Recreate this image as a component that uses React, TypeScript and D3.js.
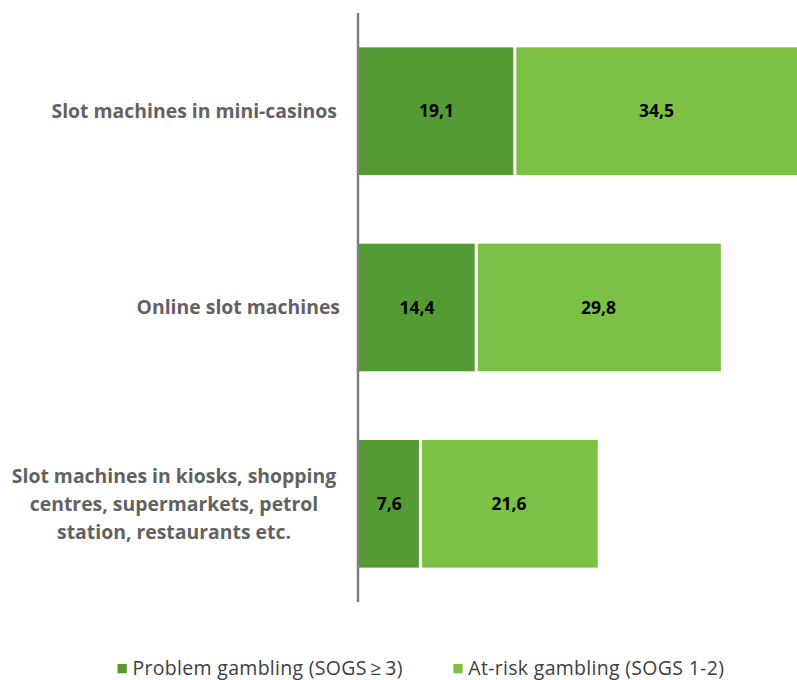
import React from "react";
import * as d3 from "d3";

// Gambling types and the share of players in each risk group (%)
const categories = [
  "Slot machines in mini-casinos",
  "Online slot machines",
  "Slot machines in kiosks, shopping centres, supermarkets, petrol station, restaurants etc.",
];
const categoryLines = [
  ["Slot machines in mini-casinos"],
  ["Online slot machines"],
  ["Slot machines in kiosks, shopping", "centres, supermarkets, petrol", "station, restaurants etc."],
];
const problemGambling = [19.1, 14.4, 7.6];
const atRiskGambling = [34.5, 29.8, 21.6];
const seriesNames = ["Problem gambling (SOGS\u2009\u2265\u20093)", "At-risk gambling (SOGS 1-2)"];
const seriesColors = ["#549b33", "#7cc145"];

const W = 797;
const H = 680;
const FONT = "'Open Sans', 'Source Sans Pro', Calibri, sans-serif";

const fmt = (v: number) => v.toFixed(1).replace(".", ",");

export default function App() {
  const x = d3.scaleLinear().domain([0, 50]).range([358, 768.5]);
  const y = d3
    .scaleBand<string>()
    .domain(categories)
    .range([13, 602])
    .paddingInner(0.35)
    .paddingOuter(0.175);

  const gap = 1.5;
  const bw = y.bandwidth();

  return (
    <svg
      width={W}
      height={H}
      viewBox={`0 0 ${W} ${H}`}
      style={{ position: "absolute", left: 0, top: 0, background: "#fff" }}
      fontFamily={FONT}
    >
      <rect width={W} height={H} fill="#fff" />
      {categories.map((c, i) => {
        const y0 = y(c)!;
        const p = problemGambling[i];
        const a = atRiskGambling[i];
        const x0 = x(0);
        const x1 = x(p);
        const x2 = x(p + a);
        const cy = y0 + bw / 2;
        const lines = categoryLines[i];
        const multi = lines.length > 1;
        const lh = 28;
        return (
          <g key={c}>
            <rect x={x0} y={y0} width={x1 - gap - x0} height={bw} fill={seriesColors[0]} />
            <rect x={x1 + gap} y={y0} width={x2 - x1 - gap} height={bw} fill={seriesColors[1]} />
            <text
              x={(x0 + x1) / 2}
              y={cy}
              dy="0.36em"
              textAnchor="middle"
              fontWeight={700}
              fontSize={17.5}
              fill="#000"
            >
              {fmt(p)}
            </text>
            <text
              x={(x1 + x2) / 2}
              y={cy}
              dy="0.36em"
              textAnchor="middle"
              fontWeight={700}
              fontSize={17.5}
              fill="#000"
            >
              {fmt(a)}
            </text>
            <text
              fontWeight={700}
              fontSize={19.4}
              fill="#626262"
              textAnchor={multi ? "middle" : "end"}
            >
              {lines.map((ln, k) => (
                <tspan
                  key={k}
                  x={multi ? 174 : i === 1 ? 340 : 337}
                  y={cy + (k - (lines.length - 1) / 2) * lh}
                  dy="0.36em"
                >
                  {ln}
                </tspan>
              ))}
            </text>
          </g>
        );
      })}
      <line x1={358} x2={358} y1={13} y2={602} stroke="#7f7f7f" strokeWidth={2.5} />
      {seriesNames.map((s, i) => {
        const lx = i === 0 ? 117.5 : 453.3;
        return (
          <g key={s}>
            <rect x={lx} y={664} width={9.3} height={9.3} fill={seriesColors[i]} />
            <text x={lx + 15} y={675} fontSize={19.5} letterSpacing={0.3} fill="#404040">
              {s}
            </text>
          </g>
        );
      })}
    </svg>
  );
}
